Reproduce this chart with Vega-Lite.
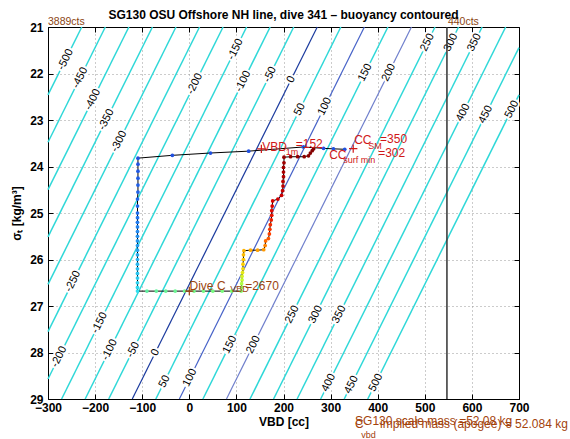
{
  "$schema": "https://vega.github.io/schema/vega-lite/v6.json",
  "width": 471,
  "height": 372,
  "autosize": "none",
  "padding": {"left": 48, "top": 27, "right": 51, "bottom": 40},
  "background": "white",
  "title": {"text": "SG130 OSU Offshore NH line, dive 341 – buoyancy contoured", "font": "Liberation Sans", "fontSize": 12, "fontWeight": "bold", "anchor": "middle", "offset": -5, "color": "black"},
  "config": {"view": {"stroke": null}, "font": "Liberation Sans"},
  "resolve": {"axis": {"x": "independent", "y": "independent"}, "scale": {"color": "independent"}},
  "datasets": {
    "contours": [
      {"b": -500, "vbd": -228.3, "sigma": 21}, {"b": -500, "vbd": -300, "sigma": 22.46},
      {"b": -450, "vbd": -178.3, "sigma": 21}, {"b": -450, "vbd": -300, "sigma": 23.479},
      {"b": -400, "vbd": -128.3, "sigma": 21}, {"b": -400, "vbd": -300, "sigma": 24.497},
      {"b": -350, "vbd": -78.3, "sigma": 21}, {"b": -350, "vbd": -300, "sigma": 25.515},
      {"b": -300, "vbd": -28.3, "sigma": 21}, {"b": -300, "vbd": -300, "sigma": 26.534},
      {"b": -250, "vbd": 21.7, "sigma": 21}, {"b": -250, "vbd": -300, "sigma": 27.552},
      {"b": -200, "vbd": 71.7, "sigma": 21}, {"b": -200, "vbd": -300, "sigma": 28.57},
      {"b": -150, "vbd": 121.7, "sigma": 21}, {"b": -150, "vbd": -271.1, "sigma": 29},
      {"b": -100, "vbd": 171.7, "sigma": 21}, {"b": -100, "vbd": -221.1, "sigma": 29},
      {"b": -50, "vbd": 221.7, "sigma": 21}, {"b": -50, "vbd": -171.1, "sigma": 29},
      {"b": 0, "vbd": 271.7, "sigma": 21}, {"b": 0, "vbd": -121.1, "sigma": 29},
      {"b": 50, "vbd": 321.7, "sigma": 21}, {"b": 50, "vbd": -71.1, "sigma": 29},
      {"b": 100, "vbd": 371.7, "sigma": 21}, {"b": 100, "vbd": -21.1, "sigma": 29},
      {"b": 150, "vbd": 421.7, "sigma": 21}, {"b": 150, "vbd": 28.9, "sigma": 29},
      {"b": 200, "vbd": 471.7, "sigma": 21}, {"b": 200, "vbd": 78.9, "sigma": 29},
      {"b": 250, "vbd": 521.7, "sigma": 21}, {"b": 250, "vbd": 128.9, "sigma": 29},
      {"b": 300, "vbd": 571.7, "sigma": 21}, {"b": 300, "vbd": 178.9, "sigma": 29},
      {"b": 350, "vbd": 621.7, "sigma": 21}, {"b": 350, "vbd": 228.9, "sigma": 29},
      {"b": 400, "vbd": 671.7, "sigma": 21}, {"b": 400, "vbd": 278.9, "sigma": 29},
      {"b": 450, "vbd": 700, "sigma": 21.442}, {"b": 450, "vbd": 328.9, "sigma": 29},
      {"b": 500, "vbd": 700, "sigma": 22.46}, {"b": 500, "vbd": 378.9, "sigma": 29}
    ],
    "clabels": [
      {"b": -500, "vbd": -262.7, "sigma": 21.70},
      {"b": -450, "vbd": -231.8, "sigma": 22.09},
      {"b": -400, "vbd": -204.9, "sigma": 22.56},
      {"b": -350, "vbd": -176.0, "sigma": 22.99},
      {"b": -300, "vbd": -149.1, "sigma": 23.46},
      {"b": -200, "vbd": 11.8, "sigma": 22.22},
      {"b": -150, "vbd": 98.1, "sigma": 21.48},
      {"b": -100, "vbd": 114.3, "sigma": 22.17},
      {"b": -50, "vbd": 171.6, "sigma": 22.02},
      {"b": 0, "vbd": 216.2, "sigma": 22.13},
      {"b": 50, "vbd": 234.8, "sigma": 22.77},
      {"b": 100, "vbd": 287.7, "sigma": 22.71},
      {"b": 150, "vbd": 373.6, "sigma": 21.98},
      {"b": 200, "vbd": 423.6, "sigma": 21.98},
      {"b": 250, "vbd": 505.5, "sigma": 21.33},
      {"b": 300, "vbd": 555.5, "sigma": 21.33},
      {"b": 350, "vbd": 605.5, "sigma": 21.33},
      {"b": 400, "vbd": 581.4, "sigma": 22.84},
      {"b": 450, "vbd": 629.4, "sigma": 22.88},
      {"b": 500, "vbd": 684.8, "sigma": 22.77},
      {"b": -250, "vbd": -246.9, "sigma": 26.47},
      {"b": -200, "vbd": -276.4, "sigma": 28.09},
      {"b": -150, "vbd": -190.6, "sigma": 27.36},
      {"b": -100, "vbd": -169.1, "sigma": 27.94},
      {"b": -50, "vbd": -119.1, "sigma": 27.94},
      {"b": 0, "vbd": -72.0, "sigma": 28.00},
      {"b": 50, "vbd": -52.4, "sigma": 28.62},
      {"b": 100, "vbd": 1.5, "sigma": 28.54},
      {"b": 150, "vbd": 86.3, "sigma": 27.83},
      {"b": 200, "vbd": 136.3, "sigma": 27.83},
      {"b": 250, "vbd": 218.3, "sigma": 27.18},
      {"b": 300, "vbd": 268.3, "sigma": 27.18},
      {"b": 350, "vbd": 318.3, "sigma": 27.18},
      {"b": 400, "vbd": 296.1, "sigma": 28.65},
      {"b": 450, "vbd": 344.1, "sigma": 28.69},
      {"b": 500, "vbd": 396.1, "sigma": 28.65}
    ],
    "limits": [{"vbd": 547, "sigma": 21, "sigma2": 29}],
    "trace": [
      {"t": 0, "vbd": 330, "sigma": 23.63}, {"t": 1, "vbd": 306, "sigma": 23.62}, {"t": 2, "vbd": 285, "sigma": 23.61}, {"t": 3, "vbd": 242, "sigma": 23.58},
      {"t": 4, "vbd": 126, "sigma": 23.67}, {"t": 5, "vbd": 45, "sigma": 23.71}, {"t": 6, "vbd": -36, "sigma": 23.76}, {"t": 7, "vbd": -109, "sigma": 23.82},
      {"t": 8, "vbd": -109, "sigma": 23.95}, {"t": 9, "vbd": -109, "sigma": 24.10}, {"t": 10, "vbd": -109, "sigma": 24.25}, {"t": 11, "vbd": -109, "sigma": 24.40},
      {"t": 12, "vbd": -109, "sigma": 24.55}, {"t": 13, "vbd": -110, "sigma": 24.70}, {"t": 14, "vbd": -110, "sigma": 24.85}, {"t": 15, "vbd": -110, "sigma": 25.00},
      {"t": 16, "vbd": -110, "sigma": 25.10}, {"t": 17, "vbd": -110, "sigma": 25.20}, {"t": 18, "vbd": -110, "sigma": 25.30}, {"t": 19, "vbd": -110, "sigma": 25.40},
      {"t": 20, "vbd": -110, "sigma": 25.50}, {"t": 21, "vbd": -110, "sigma": 25.60}, {"t": 22, "vbd": -110, "sigma": 25.70}, {"t": 23, "vbd": -110, "sigma": 25.80},
      {"t": 24, "vbd": -110, "sigma": 25.90}, {"t": 25, "vbd": -110, "sigma": 26.00}, {"t": 26, "vbd": -110, "sigma": 26.10}, {"t": 27, "vbd": -110, "sigma": 26.20},
      {"t": 28, "vbd": -110, "sigma": 26.30}, {"t": 29, "vbd": -110, "sigma": 26.40}, {"t": 30, "vbd": -110, "sigma": 26.50}, {"t": 31, "vbd": -110, "sigma": 26.60},
      {"t": 32, "vbd": -110, "sigma": 26.68},
      {"t": 33, "vbd": -90, "sigma": 26.68}, {"t": 34, "vbd": -70, "sigma": 26.68}, {"t": 35, "vbd": -50, "sigma": 26.68}, {"t": 36, "vbd": -30, "sigma": 26.68},
      {"t": 37, "vbd": -10, "sigma": 26.68}, {"t": 38, "vbd": 10, "sigma": 26.68}, {"t": 39, "vbd": 30, "sigma": 26.68}, {"t": 40, "vbd": 50, "sigma": 26.68},
      {"t": 41, "vbd": 70, "sigma": 26.68}, {"t": 42, "vbd": 90, "sigma": 26.68}, {"t": 43, "vbd": 110, "sigma": 26.68},
      {"t": 44, "vbd": 111, "sigma": 26.60}, {"t": 45, "vbd": 111, "sigma": 26.52}, {"t": 46, "vbd": 112, "sigma": 26.44}, {"t": 47, "vbd": 112, "sigma": 26.36},
      {"t": 48, "vbd": 113, "sigma": 26.28}, {"t": 49, "vbd": 114, "sigma": 26.20}, {"t": 50, "vbd": 114, "sigma": 26.10}, {"t": 51, "vbd": 115, "sigma": 26.00},
      {"t": 52, "vbd": 115, "sigma": 25.90}, {"t": 53, "vbd": 116, "sigma": 25.81}, {"t": 54, "vbd": 130, "sigma": 25.80}, {"t": 55, "vbd": 145, "sigma": 25.80},
      {"t": 56, "vbd": 158, "sigma": 25.79}, {"t": 57, "vbd": 161, "sigma": 25.70}, {"t": 58, "vbd": 162, "sigma": 25.60}, {"t": 59, "vbd": 168, "sigma": 25.55},
      {"t": 60, "vbd": 170, "sigma": 25.45}, {"t": 61, "vbd": 171, "sigma": 25.35}, {"t": 62, "vbd": 172, "sigma": 25.25}, {"t": 63, "vbd": 174, "sigma": 25.15},
      {"t": 64, "vbd": 175, "sigma": 25.05}, {"t": 65, "vbd": 175, "sigma": 24.95}, {"t": 66, "vbd": 176, "sigma": 24.85}, {"t": 67, "vbd": 177, "sigma": 24.74},
      {"t": 68, "vbd": 188, "sigma": 24.70}, {"t": 69, "vbd": 196, "sigma": 24.62}, {"t": 70, "vbd": 198, "sigma": 24.52}, {"t": 71, "vbd": 199, "sigma": 24.42},
      {"t": 72, "vbd": 199, "sigma": 24.32}, {"t": 73, "vbd": 200, "sigma": 24.22}, {"t": 74, "vbd": 200, "sigma": 24.12}, {"t": 75, "vbd": 200, "sigma": 24.02},
      {"t": 76, "vbd": 201, "sigma": 23.92}, {"t": 77, "vbd": 201, "sigma": 23.80}, {"t": 78, "vbd": 215, "sigma": 23.79}, {"t": 79, "vbd": 230, "sigma": 23.79},
      {"t": 80, "vbd": 244, "sigma": 23.79}, {"t": 81, "vbd": 253, "sigma": 23.77}, {"t": 82, "vbd": 257, "sigma": 23.71}, {"t": 83, "vbd": 261, "sigma": 23.66},
      {"t": 84, "vbd": 264, "sigma": 23.62}
    ],
    "markers": [
      {"name": "VBD 1m", "group": "surface", "vbd": 153, "sigma": 23.62},
      {"name": "CC SM", "group": "surface", "vbd": 348, "sigma": 23.615},
      {"name": "Dive C VBD", "group": "dive", "vbd": 0, "sigma": 26.68}
    ],
    "annot": [
      {"group": "surface", "role": "main", "text": "VBD", "vbd": 155, "sigma": 23.575},
      {"group": "surface", "role": "sub", "text": "1m", "vbd": 205, "sigma": 23.69},
      {"group": "surface", "role": "main", "text": "=152", "vbd": 226, "sigma": 23.52},
      {"group": "surface", "role": "main", "text": "CC", "vbd": 350, "sigma": 23.42},
      {"group": "surface", "role": "sub", "text": "SM", "vbd": 380, "sigma": 23.55},
      {"group": "surface", "role": "main", "text": "=350", "vbd": 405, "sigma": 23.40},
      {"group": "surface", "role": "main", "text": "CC", "vbd": 297, "sigma": 23.745},
      {"group": "surface", "role": "sub", "text": "surf min", "vbd": 327, "sigma": 23.85},
      {"group": "surface", "role": "main", "text": "=302", "vbd": 401, "sigma": 23.72},
      {"group": "dive", "role": "main", "text": "Dive C", "vbd": 0.5, "sigma": 26.565},
      {"group": "dive", "role": "sub", "text": "VBD", "vbd": 87, "sigma": 26.64},
      {"group": "dive", "role": "main", "text": "=2670", "vbd": 118.6, "sigma": 26.565},
      {"group": "mass", "role": "main", "text": "SG130 scale mass =52.08 kg", "vbd": 352, "sigma": 29.47},
      {"group": "mass", "role": "main", "text": "C", "vbd": 352, "sigma": 29.535},
      {"group": "mass", "role": "sub", "text": "vbd", "vbd": 365, "sigma": 29.77},
      {"group": "mass", "role": "main", "text": "implied mass (apogee) = 52.084 kg", "vbd": 405, "sigma": 29.535}
    ],
    "cts": [
      {"text": "3889cts", "vbd": -300, "sigma": 20.9},
      {"text": "440cts", "vbd": 549, "sigma": 20.9}
    ]
  },
  "layer": [
    {
      "data": {"name": "contours"},
      "transform": [{"filter": "indexof([0, 100, 200], datum.b) < 0"}],
      "mark": {"type": "line", "color": "#2fd8d8", "strokeWidth": 1.5},
      "encoding": {
        "x": {"field": "vbd", "type": "quantitative", "scale": {"domain": [-300, 700], "nice": false, "zero": false},
          "axis": {"orient": "bottom", "values": [-300, -200, -100, 0, 100, 200, 300, 400, 500, 600, 700], "format": "d", "title": "VBD [cc]",
            "titleFont": "Liberation Sans", "titleFontSize": 12, "titleFontWeight": "bold", "titleColor": "black", "titlePadding": 3,
            "labelFont": "Liberation Sans", "labelFontSize": 12, "labelFontWeight": "bold", "labelColor": "black", "labelPadding": 8,
            "labelFlush": false, "labelOverlap": false, "domainColor": "black", "tickColor": "black", "tickSize": -5,
            "grid": true, "gridColor": "#999999", "gridDash": [1, 3], "gridWidth": 1}},
        "y": {"field": "sigma", "type": "quantitative", "scale": {"domain": [21, 29], "reverse": true, "nice": false, "zero": false},
          "axis": {"orient": "left", "values": [21, 22, 23, 24, 25, 26, 27, 28, 29], "format": "d", "title": "σₜ [kg/m³]",
            "titleFont": "Liberation Sans", "titleFontSize": 12, "titleFontWeight": "bold", "titleColor": "black", "titlePadding": 6,
            "labelFont": "Liberation Sans", "labelFontSize": 12, "labelFontWeight": "bold", "labelColor": "black", "labelPadding": 10,
            "labelFlush": false, "labelOverlap": false, "domainColor": "black", "tickColor": "black", "tickSize": -5,
            "grid": true, "gridColor": "#999999", "gridDash": [1, 3], "gridWidth": 1}},
        "detail": {"field": "b", "type": "nominal"}
      }
    },
    {
      "data": {"name": "contours"},
      "transform": [{"filter": "indexof([0, 100, 200], datum.b) >= 0"}],
      "mark": {"type": "line", "strokeWidth": 1.2},
      "encoding": {
        "x": {"field": "vbd", "type": "quantitative", "axis": null},
        "y": {"field": "sigma", "type": "quantitative", "axis": null},
        "color": {"field": "b", "type": "nominal", "scale": {"domain": [0, 100, 200], "range": ["#1a3a9e", "#4662c8", "#6f7fcc"]}, "legend": null},
        "detail": {"field": "b", "type": "nominal"}
      }
    },
    {
      "data": {"name": "clabels"},
      "mark": {"type": "text", "font": "Liberation Sans", "fontSize": 11, "angle": -63.5, "align": "center", "baseline": "middle", "fill": "white", "stroke": "white", "strokeWidth": 4},
      "encoding": {
        "x": {"field": "vbd", "type": "quantitative", "axis": null},
        "y": {"field": "sigma", "type": "quantitative", "axis": null},
        "text": {"field": "b", "type": "nominal"}
      }
    },
    {
      "data": {"name": "clabels"},
      "mark": {"type": "text", "font": "Liberation Sans", "fontSize": 11, "angle": -63.5, "align": "center", "baseline": "middle", "fill": "black"},
      "encoding": {
        "x": {"field": "vbd", "type": "quantitative", "axis": null},
        "y": {"field": "sigma", "type": "quantitative", "axis": null},
        "text": {"field": "b", "type": "nominal"}
      }
    },
    {
      "data": {"name": "limits"},
      "mark": {"type": "rule", "color": "#333333", "strokeWidth": 1.5},
      "encoding": {
        "x": {"field": "vbd", "type": "quantitative",
          "axis": {"orient": "top", "values": [-300, -200, -100, 0, 100, 200, 300, 400, 500, 600, 700], "labels": false, "title": null, "grid": false,
            "domainColor": "black", "tickColor": "black", "tickSize": -5}},
        "y": {"field": "sigma", "type": "quantitative",
          "axis": {"orient": "right", "values": [21, 22, 23, 24, 25, 26, 27, 28, 29], "labels": false, "title": null, "grid": false,
            "domainColor": "black", "tickColor": "black", "tickSize": -5}},
        "y2": {"field": "sigma2"}
      }
    },
    {
      "data": {"name": "trace"},
      "mark": {"type": "line", "color": "black", "strokeWidth": 1},
      "encoding": {
        "x": {"field": "vbd", "type": "quantitative", "axis": null},
        "y": {"field": "sigma", "type": "quantitative", "axis": null},
        "order": {"field": "t", "type": "quantitative"}
      }
    },
    {
      "data": {"name": "trace"},
      "mark": {"type": "circle", "size": 14, "opacity": 1},
      "encoding": {
        "x": {"field": "vbd", "type": "quantitative", "axis": null},
        "y": {"field": "sigma", "type": "quantitative", "axis": null},
        "color": {"field": "t", "type": "quantitative", "legend": null,
          "scale": {"domain": [0, 7, 15, 32, 33, 43, 46, 50, 56, 60, 66, 76, 84],
            "range": ["#2050e0", "#2050e0", "#2070f0", "#30e0f0", "#60f0a0", "#80ff70", "#c8ff30", "#ffd000", "#ff9800", "#ff4000", "#e00000", "#a00000", "#800000"],
            "interpolate": "rgb"}}
      }
    },
    {
      "data": {"name": "markers"},
      "mark": {"type": "point", "shape": "M-1,0H1M0,-1V1", "filled": false, "size": 70, "strokeWidth": 1.2, "opacity": 1},
      "encoding": {
        "x": {"field": "vbd", "type": "quantitative", "axis": null},
        "y": {"field": "sigma", "type": "quantitative", "axis": null},
        "color": {"field": "group", "type": "nominal", "scale": {"domain": ["surface", "dive"], "range": ["#d01818", "#9c4510"]}, "legend": null}
      }
    },
    {
      "data": {"name": "annot"},
      "transform": [{"filter": "datum.role === 'main'"}],
      "mark": {"type": "text", "font": "Liberation Sans", "fontSize": 12, "align": "left", "baseline": "middle"},
      "encoding": {
        "x": {"field": "vbd", "type": "quantitative", "axis": null},
        "y": {"field": "sigma", "type": "quantitative", "axis": null},
        "text": {"field": "text", "type": "nominal"},
        "color": {"field": "group", "type": "nominal", "scale": {"domain": ["surface", "dive", "mass"], "range": ["#d01818", "#9c4510", "#a3420c"]}, "legend": null}
      }
    },
    {
      "data": {"name": "annot"},
      "transform": [{"filter": "datum.role === 'sub'"}],
      "mark": {"type": "text", "font": "Liberation Sans", "fontSize": 9, "align": "left", "baseline": "middle"},
      "encoding": {
        "x": {"field": "vbd", "type": "quantitative", "axis": null},
        "y": {"field": "sigma", "type": "quantitative", "axis": null},
        "text": {"field": "text", "type": "nominal"},
        "color": {"field": "group", "type": "nominal", "scale": {"domain": ["surface", "dive", "mass"], "range": ["#d01818", "#9c4510", "#a3420c"]}, "legend": null}
      }
    },
    {
      "data": {"name": "cts"},
      "mark": {"type": "text", "font": "Liberation Sans", "fontSize": 10.5, "align": "left", "baseline": "middle", "color": "#8b4513"},
      "encoding": {
        "x": {"field": "vbd", "type": "quantitative", "axis": null},
        "y": {"field": "sigma", "type": "quantitative", "axis": null},
        "text": {"field": "text", "type": "nominal"}
      }
    }
  ]
}
